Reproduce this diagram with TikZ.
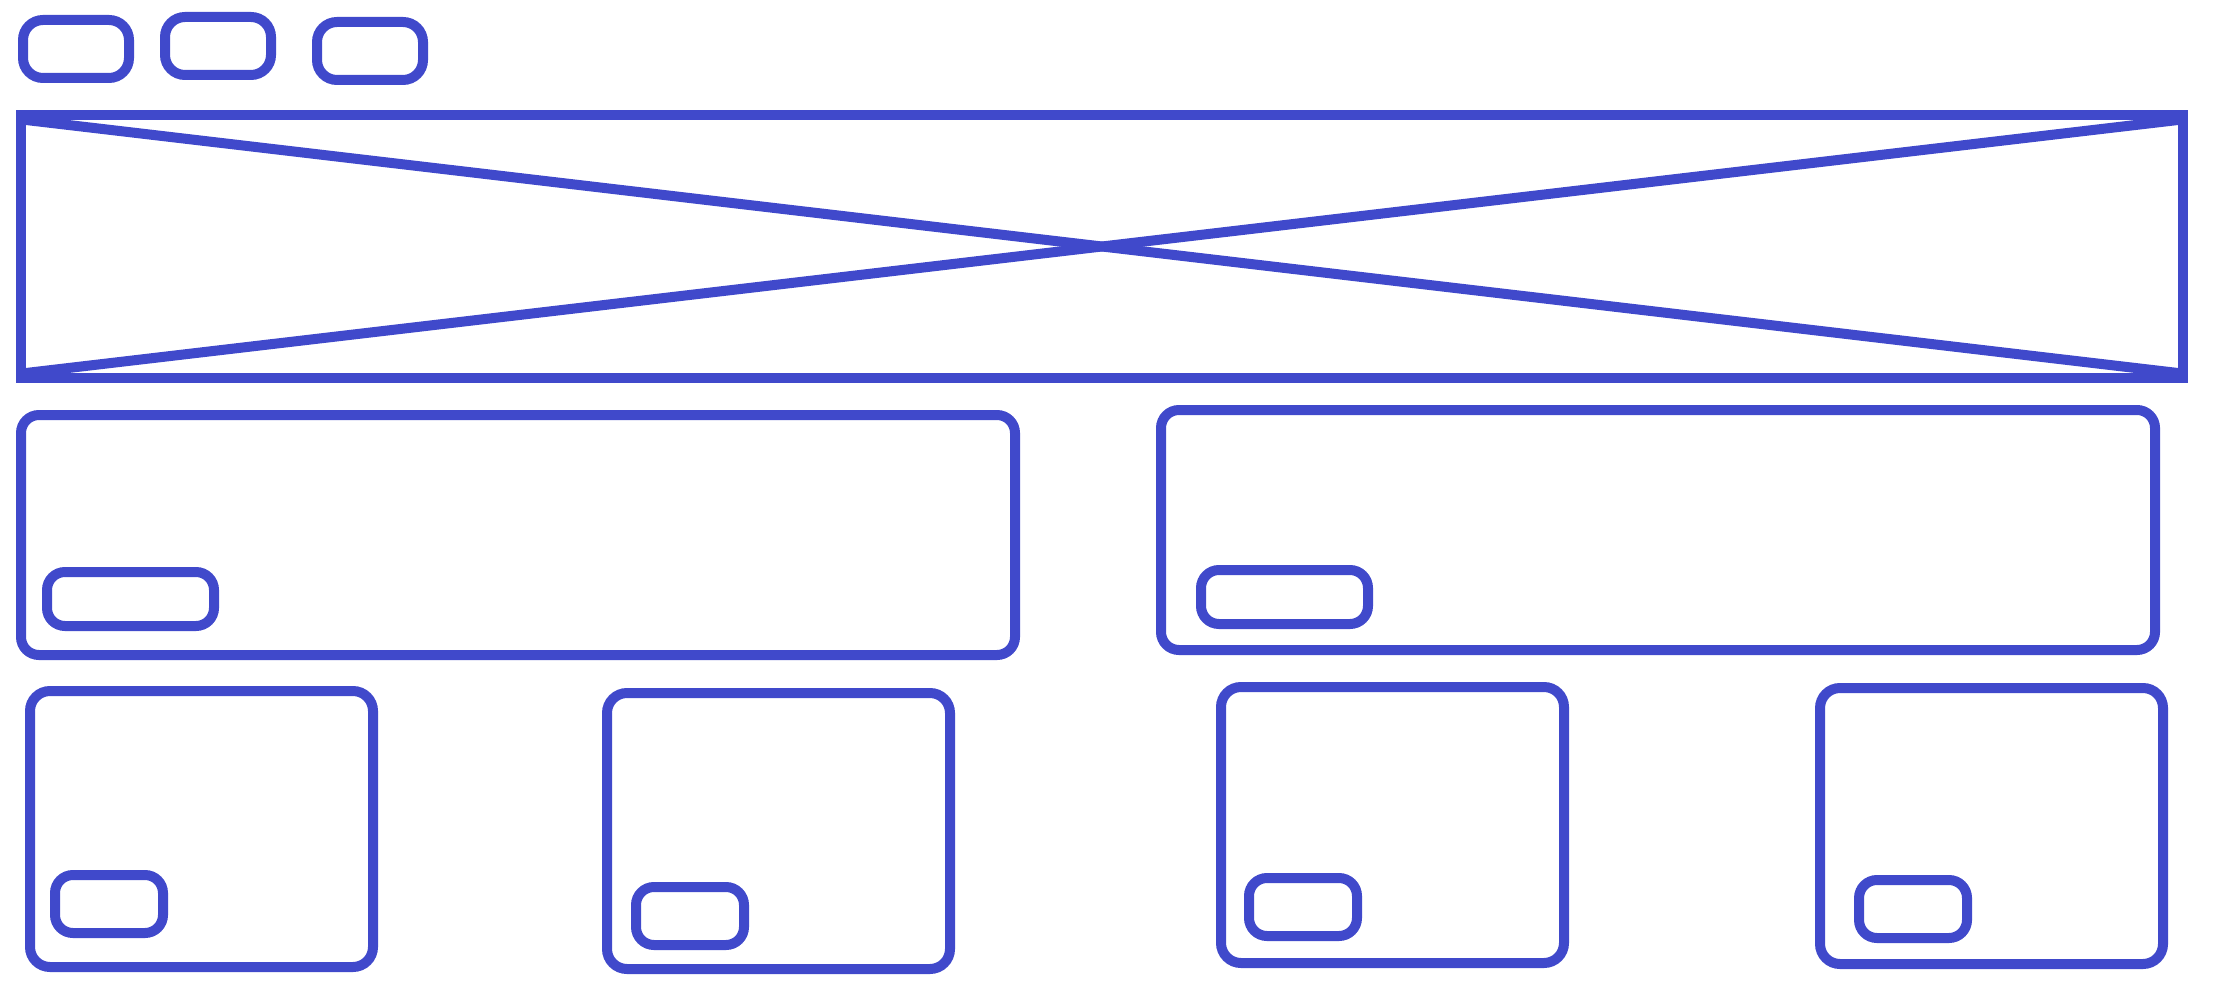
\documentclass[tikz,border=0pt]{standalone}
\usepackage{tikz}
\definecolor{wireblue}{RGB}{64,73,203}
\tikzset{
  box/.style = {draw=wireblue, line width=5pt, inner sep=0pt, anchor=north west},
  pill/.style = {box, rounded corners=10pt, minimum width=53pt,
    minimum height=29pt},% lien du menu
  hero/.style = {box, minimum width=1081pt, minimum height=131.5pt},% image
  panel/.style = {box, rounded corners=9pt, minimum width=497pt,
    minimum height=120pt},% grande carte
  tile/.style = {box, rounded corners=10pt, minimum width=171.5pt,
    minimum height=138pt},% petite carte
  btn/.style = {box, rounded corners=9pt, minimum width=54pt,
    minimum height=29pt},% bouton
  wide_btn/.style = {btn, minimum width=83.5pt, minimum height=27pt},% bouton large
  wire/.style = {draw=wireblue, line width=5pt}
}

\begin{document}
\begin{tikzpicture}[x=0.5pt,y=-0.5pt]
        \useasboundingbox (0,0) rectangle (2215,989);
        % menu
        \node [pill] (linkA) at (18,15) {};
        \node [pill] (linkB) at (160,12) {};
        \node [pill] (linkC) at (312,17) {};
        % image
        \node [hero] (hero) at (16,110) {};
        \draw [wire] ([shift={(10,10)}]hero.north west) -- ([shift={(-10,-10)}]hero.south east);
        \draw [wire] ([shift={(10,-10)}]hero.south west) -- ([shift={(-10,10)}]hero.north east);
        % grandes cartes
        \node [panel] (panelA) at (16,410) {};
        \node [wide_btn] (btnPA) at (42,567) {};
        \node [panel] (panelB) at (1156,405) {};
        \node [wide_btn] (btnPB) at (1196,565) {};
        % petites cartes
        \node [tile] (tileA) at (25,686) {};
        \node [btn] (btnA) at (50,870) {};
        \node [tile] (tileB) at (602,688) {};
        \node [btn] (btnB) at (631,882) {};
        \node [tile] (tileC) at (1216,682) {};
        \node [btn] (btnC) at (1244,873) {};
        \node [tile] (tileD) at (1815,683) {};
        \node [btn] (btnD) at (1854,875) {};
\end{tikzpicture}
\end{document}
